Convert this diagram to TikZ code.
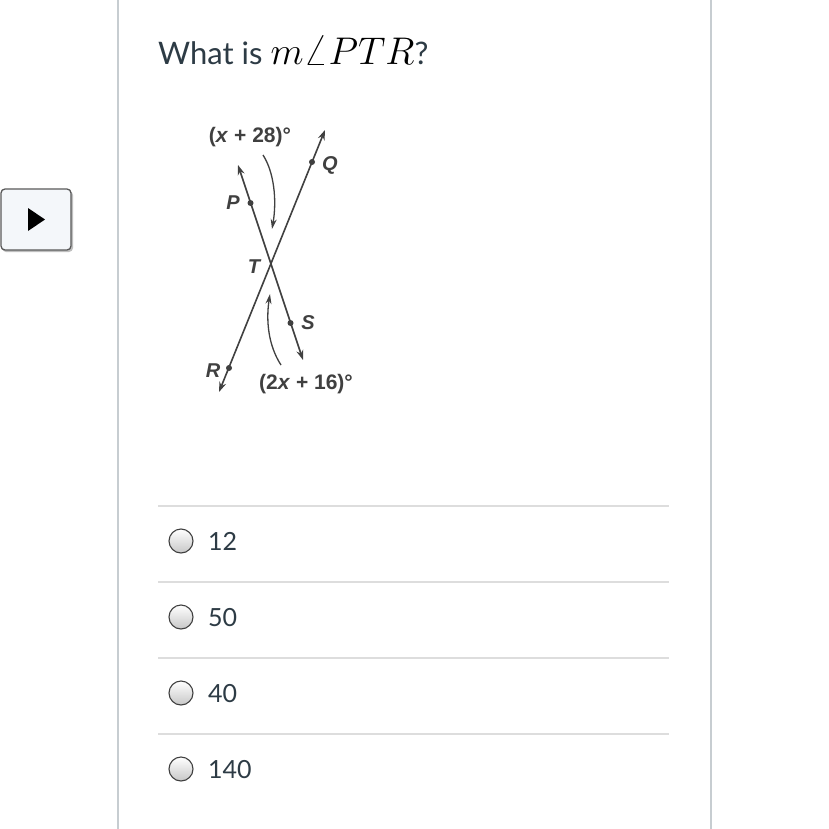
\documentclass[tikz,border=0pt]{standalone}
\usepackage{graphicx}
\usepackage{fontspec}
\setmainfont{Lato}
\newfontfamily\figfont{Liberation Sans}
\usetikzlibrary{arrows.meta,shadows}
\definecolor{txt}{HTML}{2D3B45}
\definecolor{sep}{HTML}{DDDDDD}
\definecolor{frame}{HTML}{C7CDD1}
\definecolor{fig}{HTML}{404040}
\tikzset{
  figline/.style={draw=fig, line width=1.6pt, {Stealth[length=10pt,width=7pt]}-{Stealth[length=10pt,width=7pt]}},
  anglearrow/.style={draw=fig, line width=1.3pt, -{Stealth[length=10pt,width=6pt]}},
  ptdot/.style={circle, fill=fig, inner sep=0pt, minimum size=6pt},
  ptlabel/.style={font=\figfont\bfseries\itshape\fontsize{20}{22}\selectfont, text=fig, inner sep=0pt},
  anglabel/.style={font=\figfont\bfseries\fontsize{21}{24}\selectfont, text=fig, inner sep=0pt},
  radio/.style={circle, draw=black!75, line width=1.1pt, minimum size=24pt, inner sep=0pt, top color=white, bottom color=black!22},
  opt/.style={font=\fontsize{25}{30}\selectfont, text=txt, anchor=base west, inner sep=0pt},
  sepline/.style={draw=sep, line width=1.8pt}
}
\begin{document}
\begin{tikzpicture}[x=1pt,y=-1pt]
\useasboundingbox (0,0) rectangle (828,829);
\fill[white] (0,0) rectangle (828,829);
% frame lines
\draw[frame, line width=1.5pt] (118,0) -- (118,829);
\draw[frame, line width=1.5pt] (711,0) -- (711,829);
% play button
\fill[black!25, rounded corners=4pt] (2,191) rectangle (73,252);
\node[draw=black!65, line width=1.3pt, fill={rgb,255:red,244;green,247;blue,250}, rounded corners=4pt, minimum width=70pt, minimum height=61pt, inner sep=0pt] (btn) at (36,219.5) {};
\fill[black] (28,208) -- (28,231) -- (45,219.5) -- cycle;
% title
\node[anchor=base west, inner sep=0pt, font=\fontsize{31}{37}\selectfont, text=txt] (title) at (158,65) {What is \textcolor{black}{\resizebox{144pt}{!}{$m\angle PTR$}}?};
% figure
\coordinate (QT) at (325,130);
\coordinate (RB) at (219,392);
\coordinate (PT) at (238,165);
\coordinate (SB) at (303,360);
\draw[figline] (RB) -- (QT);
\draw[figline] (PT) -- (SB);
\node[ptdot] (Q) at (312,162) {};
\node[ptdot] (R) at (229,368) {};
\node[ptdot] (P) at (250.5,203) {};
\node[ptdot] (S) at (290.5,323) {};
\node[ptlabel] (Ql) at (330,165) {Q};
\node[ptlabel] (Pl) at (233,203) {P};
\node[ptlabel] (Tl) at (254,267) {T};
\node[ptlabel] (Sl) at (308,323) {S};
\node[ptlabel] (Rl) at (213,371) {R};
\node[anglabel] (a1) at (250,137) {(\textit{x} + 28)°};
\node[anglabel] (a2) at (306,384) {(2\textit{x} + 16)°};
\coordinate (c1s) at (263,155);
\coordinate (c1e) at (272,229);
\draw[anglearrow] (c1s) .. controls (274,172) and (277,200) .. (c1e);
\coordinate (c2s) at (281,365);
\coordinate (c2e) at (270,294);
\draw[anglearrow] (c2s) .. controls (268,345) and (266,320) .. (c2e);
% separators
\foreach \y in {506,582,658,734} \draw[sepline] (158,\y) -- (669,\y);
% options
\node[radio] (r1) at (181,541) {};
\node[radio] (r2) at (181,617) {};
\node[radio] (r3) at (181,693) {};
\node[radio] (r4) at (181,769) {};
\node[opt] (o1) at (208,550.5) {12};
\node[opt] (o2) at (208,626.5) {50};
\node[opt] (o3) at (208,702.5) {40};
\node[opt] (o4) at (208,778.5) {140};
\end{tikzpicture}
\end{document}
